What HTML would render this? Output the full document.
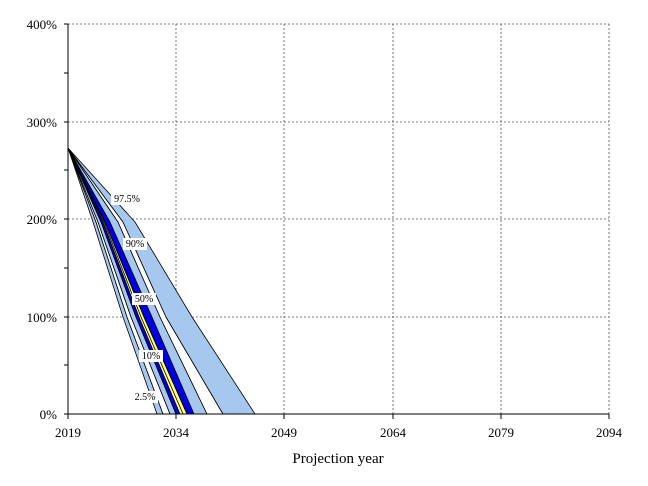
<!DOCTYPE html><html><head><style>body{margin:0;background:#fff}svg{display:block;font-family:"Liberation Serif",serif}</style></head><body>
<svg width="648" height="486" viewBox="0 0 648 486">
<g stroke="#555" stroke-dasharray="2,2" stroke-width="0.8">
<line x1="68" y1="24" x2="609" y2="24"/><line x1="68" y1="122" x2="609" y2="122"/><line x1="68" y1="219" x2="609" y2="219"/><line x1="68" y1="317" x2="609" y2="317"/>
<line x1="176" y1="24" x2="176" y2="414"/><line x1="284" y1="24" x2="284" y2="414"/><line x1="393" y1="24" x2="393" y2="414"/><line x1="501" y1="24" x2="501" y2="414"/><line x1="609" y1="24" x2="609" y2="414"/>
</g>
<g stroke="#000" stroke-width="0.8" stroke-linejoin="round">
<polygon points="68,148 93,222 123,317 157,414 163,414 127,317 96,222" fill="#a6c8ee"/>
<polygon points="68,148 96,222 127,317 163,414 170,414 131,317 98,222" fill="#fff"/>
<polygon points="68,148 98,222 131,317 170,414 176,414 136,317 101,222" fill="#a6c8ee"/>
<polygon points="68,148 101,222 136,317 176,414 180,414 139,317 103,222" fill="#0000e0"/>
<polygon points="68,148 103,222 139,317 180,414 187,414 144,317 105,222" fill="#ffff80"/>
<polygon points="68,148 105,222 144,317 187,414 194,414 152,317 110,222" fill="#0000e0"/>
<polygon points="68,148 110,222 152,317 194,414 207,414 160,317 118,222" fill="#a6c8ee"/>
<polygon points="68,148 118,222 160,317 207,414 223,414 166,317 123,222" fill="#fff"/>
<polygon points="68,148 123,222 166,317 223,414 255,414 220,360 192,317 135,222" fill="#a6c8ee"/>
<polyline points="68,148 104,222 141,317 183,414" fill="none"/>
</g>
<g font-size="10" text-anchor="middle">
<rect x="111" y="193" width="32" height="12" fill="#fff"/><text x="127" y="202">97.5%</text>
<rect x="123" y="238" width="24" height="12" fill="#fff"/><text x="135" y="247">90%</text>
<rect x="132" y="293" width="24" height="12" fill="#fff"/><text x="144" y="302">50%</text>
<rect x="139" y="350" width="24" height="12" fill="#fff"/><text x="151" y="359">10%</text>
<rect x="132" y="391" width="26" height="12" fill="#fff"/><text x="145" y="400">2.5%</text>
</g>
<g stroke="#000" stroke-width="1">
<line x1="68" y1="24" x2="68" y2="414"/><line x1="68" y1="414" x2="609" y2="414"/>
<line x1="64" y1="24" x2="68" y2="24"/><line x1="64" y1="73" x2="68" y2="73"/><line x1="64" y1="122" x2="68" y2="122"/><line x1="64" y1="170" x2="68" y2="170"/><line x1="64" y1="219" x2="68" y2="219"/><line x1="64" y1="268" x2="68" y2="268"/><line x1="64" y1="317" x2="68" y2="317"/><line x1="64" y1="365" x2="68" y2="365"/><line x1="64" y1="414" x2="68" y2="414"/>
<line x1="68" y1="414" x2="68" y2="419"/><line x1="176" y1="414" x2="176" y2="419"/><line x1="284" y1="414" x2="284" y2="419"/><line x1="393" y1="414" x2="393" y2="419"/><line x1="501" y1="414" x2="501" y2="419"/><line x1="609" y1="414" x2="609" y2="419"/>
</g>
<g font-size="13" text-anchor="end">
<text x="57" y="29">400%</text><text x="57" y="127">300%</text><text x="57" y="224">200%</text><text x="57" y="322">100%</text><text x="57" y="419">0%</text>
</g>
<g font-size="13" text-anchor="middle">
<text x="68" y="437">2019</text><text x="176" y="437">2034</text><text x="284" y="437">2049</text><text x="393" y="437">2064</text><text x="501" y="437">2079</text><text x="609" y="437">2094</text>
<text x="338" y="463" font-size="15">Projection year</text>
</g>
</svg></body></html>
